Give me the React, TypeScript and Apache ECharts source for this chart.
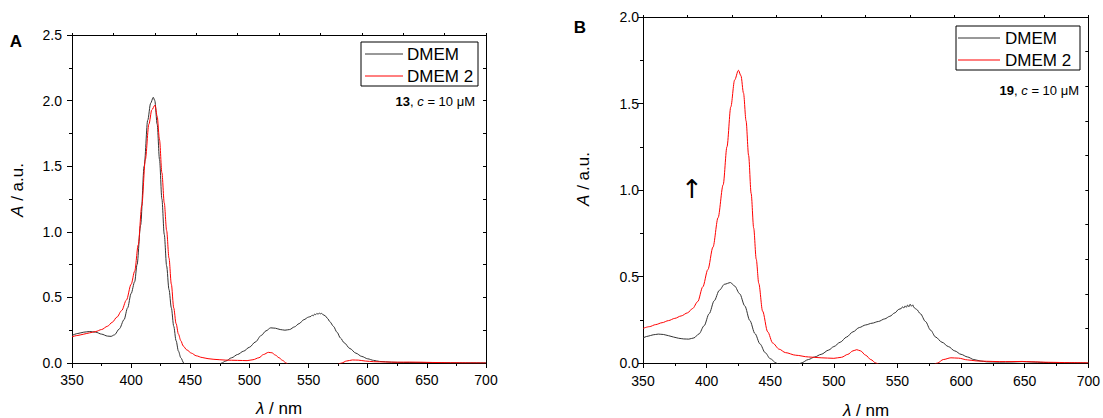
import React, { useEffect, useRef } from "react";
import * as echarts from "echarts";

const X_MIN = 350;
const X_MAX = 700;
const X_INTERVAL = 50;
const X_TOP_INTERVAL = 35;
const Y_MAX_A = 2.5;
const Y_MAX_B = 2.0;
const Y_INTERVAL = 0.5;

const seriesNames = ["DMEM", "DMEM 2"];
const panelLabels = ["A", "B"];
const compoundLabels = ["13", "19"];

// Panel A, DMEM (black)
const panelA_DMEM: [number, number][] = [
  [350, 0.21], [355, 0.225], [360, 0.235], [365, 0.24], [370, 0.235], [375, 0.22], [380, 0.205],
  [383, 0.203], [386, 0.215], [390, 0.26], [394, 0.33], [397, 0.42], [400, 0.53], [403, 0.62],
  [405, 0.75], [408, 1.05], [411, 1.5], [414, 1.85], [416.5, 1.98], [418.7, 2.025], [420, 2.0],
  [422, 1.82], [424, 1.55], [426, 1.25], [428, 0.98], [430, 0.74], [432, 0.56], [434, 0.42],
  [436, 0.28], [438, 0.17], [440, 0.09], [442, 0.04], [444.5, 0.0], [448, -0.05], [460, -0.08],
  [472, -0.03], [476.5, 0.0], [480, 0.015], [485, 0.04], [490, 0.065], [495, 0.09], [500, 0.12],
  [505, 0.16], [510, 0.21], [514, 0.245], [518, 0.268], [522, 0.265], [526, 0.255], [530, 0.25],
  [534, 0.255], [538, 0.275], [542, 0.3], [546, 0.33], [550, 0.35], [552, 0.355], [553, 0.365],
  [554, 0.36], [555, 0.372], [556, 0.368], [557, 0.378], [558, 0.372], [559, 0.38], [560, 0.375],
  [561, 0.378], [562, 0.37], [564, 0.36], [566, 0.34], [568, 0.315], [571, 0.28], [574, 0.235],
  [577, 0.19], [580, 0.155], [585, 0.11], [590, 0.075], [595, 0.05], [600, 0.032], [605, 0.02],
  [610, 0.012], [620, 0.006], [630, 0.004], [640, 0.003], [650, 0.003], [660, 0.002], [680, 0.001],
  [700, 0.001],
];

// Panel A, DMEM 2 (red)
const panelA_DMEM2: [number, number][] = [
  [350, 0.2], [355, 0.21], [360, 0.22], [365, 0.23], [370, 0.24], [375, 0.255], [380, 0.28],
  [384, 0.31], [388, 0.35], [392, 0.4], [396, 0.48], [400, 0.6], [403, 0.7], [406, 0.9],
  [409, 1.2], [412, 1.55], [415, 1.82], [417.5, 1.93], [420.2, 1.966], [422, 1.88], [424, 1.7],
  [426, 1.45], [428, 1.22], [430, 1.01], [432, 0.8], [434, 0.6], [436, 0.42], [438, 0.3],
  [440, 0.22], [442, 0.17], [444, 0.13], [447, 0.1], [451, 0.075], [455, 0.055], [460, 0.042],
  [465, 0.033], [470, 0.028], [480, 0.022], [490, 0.02], [498, 0.018], [503, 0.025], [508, 0.04],
  [512, 0.065], [516, 0.081], [519, 0.078], [522, 0.06], [525, 0.04], [528, 0.02], [531, 0.0],
  [535, -0.03], [550, -0.06], [570, -0.03], [578, 0.0], [582, 0.015], [587, 0.023], [592, 0.022],
  [598, 0.015], [605, 0.01], [615, 0.008], [625, 0.006], [635, 0.007], [645, 0.006], [655, 0.004],
  [670, 0.002], [685, 0.001], [700, 0.0],
];

// Panel B, DMEM (black)
const panelB_DMEM: [number, number][] = [
  [350, 0.145], [354, 0.155], [358, 0.163], [362, 0.167], [366, 0.165], [370, 0.158], [374, 0.15],
  [378, 0.143], [382, 0.139], [386, 0.138], [390, 0.145], [394, 0.168], [398, 0.215], [402, 0.285],
  [406, 0.36], [410, 0.42], [414, 0.455], [418.8, 0.465], [422, 0.445], [426, 0.4], [430, 0.33],
  [434, 0.245], [438, 0.17], [442, 0.11], [446, 0.06], [450, 0.025], [454.7, 0.0], [460, -0.03],
  [470, -0.02], [474.3, 0.0], [480, 0.02], [485, 0.035], [490, 0.05], [496, 0.075], [500, 0.095],
  [505, 0.12], [510, 0.15], [515, 0.18], [520, 0.205], [525, 0.22], [530, 0.23], [535, 0.24],
  [540, 0.255], [544, 0.27], [548, 0.29], [551, 0.31], [553, 0.315], [554, 0.325], [555, 0.318],
  [556, 0.33], [557, 0.322], [558, 0.335], [559, 0.325], [560, 0.34], [561, 0.328], [562, 0.336],
  [563, 0.32], [565, 0.31], [568, 0.285], [572, 0.24], [576, 0.19], [580, 0.15], [585, 0.12],
  [590, 0.095], [595, 0.07], [600, 0.05], [605, 0.035], [610, 0.02], [615, 0.012], [620, 0.007],
  [630, 0.005], [640, 0.006], [648, 0.008], [655, 0.006], [665, 0.003], [680, 0.001], [700, 0.0],
];

// Panel B, DMEM 2 (red)
const panelB_DMEM2: [number, number][] = [
  [350, 0.2], [355, 0.21], [360, 0.222], [365, 0.233], [370, 0.245], [375, 0.258], [380, 0.272],
  [385, 0.29], [389, 0.315], [393, 0.355], [397, 0.44], [401, 0.54], [405, 0.67], [409, 0.84],
  [413, 1.03], [416, 1.25], [419, 1.48], [422, 1.635], [425, 1.692], [427, 1.66], [429, 1.56],
  [431, 1.4], [433, 1.2], [435, 0.98], [437, 0.78], [439, 0.6], [441, 0.46], [444, 0.3],
  [448, 0.18], [452, 0.115], [457, 0.08], [462, 0.06], [470, 0.045], [480, 0.035], [490, 0.03],
  [500, 0.027], [506, 0.033], [511, 0.05], [515, 0.07], [518, 0.077], [521, 0.07], [525, 0.045],
  [529, 0.02], [533, 0.0], [540, -0.03], [560, -0.05], [578, -0.01], [581.5, 0.0], [586, 0.02],
  [592, 0.03], [598, 0.028], [605, 0.018], [612, 0.012], [620, 0.01], [630, 0.008], [640, 0.008],
  [648, 0.009], [655, 0.007], [670, 0.004], [685, 0.002], [700, 0.001],
];

const FONT = "'Liberation Sans', Arial, Helvetica, sans-serif";
const BLACK_LINE = "#333333";
const RED_LINE = "#ff0000";
const TICK_FS = 14;
const TITLE_FS = 17;
const LEGEND_FS = 17;

function xBottom(grid: number, margin: number) {
  return {
    type: "value", gridIndex: grid, min: X_MIN, max: X_MAX, interval: X_INTERVAL,
    axisLine: { onZero: false, lineStyle: { color: "#000", width: 1 } },
    axisTick: { length: 5, lineStyle: { color: "#000" } },
    minorTick: { show: true, splitNumber: 2, length: 3, lineStyle: { color: "#000" } },
    axisLabel: { color: "#000", fontSize: TICK_FS, fontFamily: FONT, margin },
    splitLine: { show: false }, minorSplitLine: { show: false },
  };
}
function xTop(grid: number) {
  return {
    type: "value", gridIndex: grid, position: "top", min: X_MIN, max: X_MAX, interval: X_TOP_INTERVAL,
    axisLine: { onZero: false, lineStyle: { color: "#000", width: 1 } },
    axisTick: { inside: false, length: 2, lineStyle: { color: "#000" } },
    minorTick: { show: false },
    axisLabel: { show: false },
    splitLine: { show: false },
  };
}
function yLeft(grid: number, max: number, margin: number) {
  return {
    type: "value", gridIndex: grid, min: 0, max, interval: Y_INTERVAL,
    axisLine: { onZero: false, lineStyle: { color: "#000", width: 1 } },
    axisTick: { length: 5, lineStyle: { color: "#000" } },
    minorTick: { show: true, splitNumber: 2, length: 3, lineStyle: { color: "#000" } },
    axisLabel: { color: "#000", fontSize: TICK_FS, fontFamily: FONT, margin, formatter: (v: number) => v.toFixed(1) },
    splitLine: { show: false }, minorSplitLine: { show: false },
  };
}
function yRight(grid: number, max: number) {
  return {
    type: "value", gridIndex: grid, position: "right", min: 0, max, interval: max / 10,
    axisLine: { onZero: false, lineStyle: { color: "#000", width: 1 } },
    axisTick: { inside: true, length: 3, lineStyle: { color: "#000" } },
    minorTick: { show: false },
    axisLabel: { show: false },
    splitLine: { show: false },
  };
}
function lineSeries(name: string, data: [number, number][], xi: number, yi: number, color: string) {
  return {
    type: "line", name, data, xAxisIndex: xi, yAxisIndex: yi,
    symbol: "none", smooth: 0.3, smoothMonotone: "x", clip: true,
    lineStyle: { color, width: 1 }, itemStyle: { color },
  };
}

function legendBlock(x: number, y: number, w: number, lineX1: number, lineX2: number, textX: number, row1: number, row2: number) {
  return [
    { type: "rect", z: 100, shape: { x, y, width: w, height: (row2 - row1) + 22 }, style: { fill: "#fff", stroke: "#000", lineWidth: 1 } },
    { type: "line", z: 101, shape: { x1: lineX1, y1: row1, x2: lineX2, y2: row1 }, style: { stroke: BLACK_LINE, lineWidth: 1 } },
    { type: "line", z: 101, shape: { x1: lineX1, y1: row2, x2: lineX2, y2: row2 }, style: { stroke: RED_LINE, lineWidth: 1 } },
    { type: "text", z: 101, x: textX, y: row1, style: { text: seriesNames[0], fontSize: LEGEND_FS, fontFamily: FONT, fill: "#000", align: "left", verticalAlign: "middle" } },
    { type: "text", z: 101, x: textX, y: row2, style: { text: seriesNames[1], fontSize: LEGEND_FS, fontFamily: FONT, fill: "#000", align: "left", verticalAlign: "middle" } },
  ];
}

function richLabel(text: string, x: number, y: number, rotation = 0, size = TITLE_FS) {
  return {
    type: "text", z: 101, x, y, rotation,
    style: {
      text, fontSize: size, fontFamily: FONT, fill: "#000", align: "center", verticalAlign: "middle",
      rich: {
        i: { fontStyle: "italic", fontSize: size, fontFamily: FONT, fill: "#000" },
        n: { fontSize: size, fontFamily: FONT, fill: "#000" },
      },
    },
  };
}

function concLabel(compound: string, xRight: number, y: number) {
  const fs = 13;
  return {
    type: "text", z: 101, x: xRight, y,
    style: {
      text: `{b|${compound}}{n|, }{i|c}{n| = 10 μM}`, fontSize: fs, fontFamily: FONT, fill: "#000",
      align: "right", verticalAlign: "middle",
      rich: {
        b: { fontWeight: "bold", fontSize: fs, fontFamily: FONT, fill: "#000" },
        i: { fontStyle: "italic", fontSize: fs, fontFamily: FONT, fill: "#000" },
        n: { fontSize: fs, fontFamily: FONT, fill: "#000" },
      },
    },
  };
}

export default function App() {
  const ref = useRef<HTMLDivElement>(null);
  useEffect(() => {
    if (!ref.current) return;
    const chart = echarts.init(ref.current, null, { renderer: "svg" });
    const option: any = {
      animation: false,
      backgroundColor: "#fff",
      grid: [
        { left: 72, top: 35, width: 414, height: 328 },
        { left: 643, top: 17, width: 446, height: 346 },
      ],
      xAxis: [xBottom(0, 10), xTop(0), xBottom(1, 11), xTop(1)],
      yAxis: [yLeft(0, Y_MAX_A, 10), yRight(0, Y_MAX_A), yLeft(1, Y_MAX_B, 4), yRight(1, Y_MAX_B)],
      series: [
        lineSeries(seriesNames[0], panelA_DMEM, 0, 0, BLACK_LINE),
        lineSeries(seriesNames[1], panelA_DMEM2, 0, 0, RED_LINE),
        lineSeries(seriesNames[0], panelB_DMEM, 2, 2, BLACK_LINE),
        lineSeries(seriesNames[1], panelB_DMEM2, 2, 2, RED_LINE),
      ],
      graphic: [
        { type: "text", z: 101, x: 16, y: 41, style: { text: panelLabels[0], fontSize: 17, fontWeight: "bold", fontFamily: FONT, fill: "#000", align: "center", verticalAlign: "middle" } },
        { type: "text", z: 101, x: 580, y: 27, style: { text: panelLabels[1], fontSize: 17, fontWeight: "bold", fontFamily: FONT, fill: "#000", align: "center", verticalAlign: "middle" } },
        richLabel("{i|A}{n| / a.u.}", 17, 190, Math.PI / 2),
        richLabel("{i|A}{n| / a.u.}", 583, 179, Math.PI / 2),
        richLabel("{i|λ}{n| / nm}", 279, 408),
        richLabel("{i|λ}{n| / nm}", 866, 410),
        ...legendBlock(361, 42, 117, 365, 403, 407, 54, 76),
        ...legendBlock(956, 26, 124, 958, 1000, 1005, 38, 60),
        concLabel(compoundLabels[0], 475, 101),
        concLabel(compoundLabels[1], 1079, 90),
        { type: "text", z: 101, x: 692, y: 189, style: { text: "↑", fontSize: 26, fontFamily: "'DejaVu Sans', sans-serif", fill: "#000", align: "center", verticalAlign: "middle" } },
      ],
    };
    chart.setOption(option);
    return () => chart.dispose();
  }, []);
  return (
    <div
      ref={ref}
      style={{ position: "fixed", left: 0, top: 0, width: 1103, height: 418, background: "#fff" }}
    />
  );
}
